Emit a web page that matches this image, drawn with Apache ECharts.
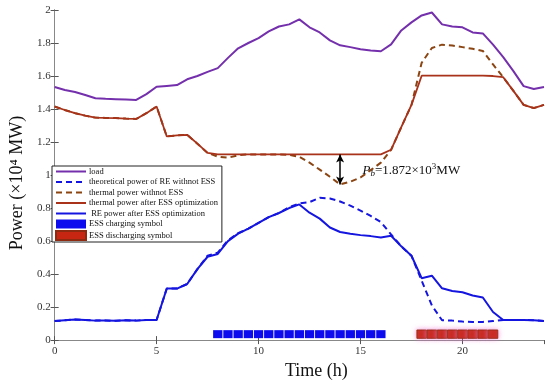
<!DOCTYPE html>
<html><head><meta charset="utf-8">
<script src="https://cdn.jsdelivr.net/npm/echarts@6/dist/echarts.min.js"></script>
<style>html,body{margin:0;padding:0;background:#fff}#c{width:550px;height:385px}</style>
</head><body><div id="c"></div>
<script>
// ---- data (x10^4 MW), half-hour steps ----
const hours = [0,0.5,1,1.5,2,2.5,3,3.5,4,4.5,5,5.5,6,6.5,7,7.5,8,8.5,9,9.5,10,10.5,11,11.5,12,12.5,13,13.5,14,14.5,15,15.5,16,16.5,17,17.5,18,18.5,19,19.5,20,20.5,21,21.5,22,22.5,23,23.5,24];
const load = [1.533,1.515,1.503,1.485,1.465,1.462,1.460,1.458,1.455,1.490,1.535,1.540,1.545,1.580,1.600,1.625,1.648,1.710,1.768,1.800,1.830,1.870,1.900,1.913,1.943,1.895,1.864,1.816,1.786,1.775,1.762,1.755,1.750,1.792,1.876,1.925,1.967,1.985,1.913,1.900,1.895,1.864,1.858,1.790,1.714,1.630,1.539,1.521,1.533];
const reTheory = [0.115,0.120,0.125,0.122,0.118,0.118,0.117,0.120,0.118,0.122,0.122,0.313,0.312,0.340,0.430,0.512,0.530,0.605,0.648,0.675,0.710,0.745,0.770,0.805,0.828,0.836,0.862,0.858,0.840,0.815,0.785,0.752,0.715,0.640,0.568,0.511,0.360,0.210,0.120,0.118,0.112,0.110,0.110,0.115,0.122,0.122,0.122,0.120,0.115];
const thermalNoESS = [1.415,1.394,1.375,1.360,1.348,1.346,1.345,1.342,1.340,1.375,1.415,1.234,1.240,1.244,1.190,1.134,1.112,1.105,1.120,1.125,1.125,1.125,1.125,1.123,1.110,1.075,1.033,0.990,0.943,0.960,0.985,1.030,1.075,1.153,1.290,1.425,1.680,1.770,1.790,1.785,1.775,1.765,1.752,1.670,1.593,1.510,1.425,1.406,1.425];
const thermalESS = [1.415,1.394,1.375,1.360,1.348,1.346,1.345,1.342,1.340,1.375,1.415,1.234,1.240,1.244,1.190,1.134,1.125,1.125,1.125,1.125,1.125,1.125,1.125,1.125,1.125,1.125,1.125,1.125,1.125,1.125,1.125,1.125,1.125,1.153,1.290,1.425,1.602,1.602,1.602,1.602,1.602,1.602,1.602,1.600,1.593,1.510,1.425,1.406,1.425];
const reESS = [0.115,0.120,0.125,0.122,0.118,0.118,0.117,0.120,0.118,0.122,0.122,0.313,0.312,0.340,0.430,0.505,0.522,0.600,0.645,0.675,0.710,0.745,0.770,0.800,0.822,0.772,0.736,0.682,0.655,0.645,0.636,0.630,0.622,0.632,0.568,0.511,0.375,0.390,0.314,0.298,0.290,0.270,0.258,0.170,0.122,0.122,0.122,0.120,0.115];
const chargeHours = [8,8.5,9,9.5,10,10.5,11,11.5,12,12.5,13,13.5,14,14.5,15,15.5,16];
const dischargeHours = [18,18.5,19,19.5,20,20.5,21,21.5];
const symbolLevel = 0.036;
const xTicks = [0,5,10,15,20];
const yTicks = [0,0.2,0.4,0.6,0.8,1,1.2,1.4,1.6,1.8,2];
const gapHour = 14;
const gapText = '=1.872×10';

const F = '"Liberation Serif","Times New Roman",serif';
const pairs = ys => hours.map((h,i)=>[h, ys[i]]);
const gi = hours.indexOf(gapHour);

const chart = echarts.init(document.getElementById('c'));
const baseX = {type:'value', min:xTicks[0], max:24, interval:xTicks[1]-xTicks[0], splitLine:{show:false}};
const baseY = {type:'value', min:yTicks[0], max:yTicks[yTicks.length-1], interval:yTicks[1]-yTicks[0], splitLine:{show:false}};
const lineLegend = n => ({name:n, itemStyle:{opacity:0}});
chart.setOption({
  animation:false,
  grid:{left:49, top:10, right:6, bottom:43.5},
  xAxis:[
    Object.assign({}, baseX, {position:'bottom',
      axisLine:{lineStyle:{color:'#a8553a', width:1}},
      axisTick:{inside:true, length:4, lineStyle:{color:'#555'}},
      axisLabel:{fontFamily:F, fontSize:11, color:'#333', margin:6, showMaxLabel:false},
      name:'Time (h)', nameLocation:'middle', nameGap:21,
      nameTextStyle:{fontFamily:F, fontSize:18, color:'#111', padding:[0,0,0,34]}}),
    Object.assign({}, baseX, {position:'top',
      axisLine:{lineStyle:{color:'#888'}},
      axisTick:{inside:true, length:4, lineStyle:{color:'#555'}},
      axisLabel:{show:false}})
  ],
  yAxis:[
    Object.assign({}, baseY, {position:'left',
      axisLine:{show:true, lineStyle:{color:'#555'}},
      axisTick:{show:true, inside:true, length:4, lineStyle:{color:'#555'}},
      axisLabel:{fontFamily:F, fontSize:11, color:'#333', margin:4},
      name:'Power (×10⁴ MW)', nameLocation:'middle', nameGap:27,
      nameTextStyle:{fontFamily:F, fontSize:18, color:'#111', padding:[0,16,0,0]}}),
    Object.assign({}, baseY, {position:'right',
      axisLine:{show:true, lineStyle:{color:'#888'}},
      axisTick:{show:true, inside:true, length:4, lineStyle:{color:'#555'}},
      axisLabel:{show:false}})
  ],
  legend:{
    orient:'vertical', left:52, top:166,
    backgroundColor:'#fff', borderColor:'#222', borderWidth:1, borderRadius:0,
    padding:[1,4,1,3], itemWidth:30, itemHeight:9, itemGap:1.5,
    textStyle:{fontFamily:F, fontSize:8.5, color:'#111', padding:[0,0,0,-2]},
    data:[lineLegend('load'), lineLegend('theoretical power of RE withnot ESS'), lineLegend('thermal power withnot ESS'),
      lineLegend('thermal power after ESS optimization'), lineLegend(' RE power after ESS optimization'),
      'ESS charging symbol', 'ESS discharging symbol']
  },
  series:[
    {name:'load', type:'line', data:pairs(load), symbol:'none', lineStyle:{color:'#7430ac', width:2}, itemStyle:{color:'#7430ac'}},
    {name:'thermal power withnot ESS', type:'line', data:pairs(thermalNoESS), symbol:'none', lineStyle:{color:'#8b4513', width:2, type:[6,4]}, itemStyle:{color:'#8b4513'}},
    {name:'thermal power after ESS optimization', type:'line', data:pairs(thermalESS), symbol:'none', lineStyle:{color:'#a8321a', width:1.8}, itemStyle:{color:'#a8321a'},
      markLine:{silent:true, symbol:['arrow','arrow'], symbolSize:[6,8], label:{show:false},
        lineStyle:{color:'#000', type:'solid', width:1.5},
        data:[[{coord:[gapHour, thermalESS[gi]]},{coord:[gapHour, thermalNoESS[gi]]}]]},
      markPoint:{silent:true, symbol:'circle', symbolSize:0,
        data:[{coord:[gapHour+1.0, (thermalESS[gi]+thermalNoESS[gi])/2 - 0.007]}],
        label:{show:true, position:'right', distance:2, color:'#111',
          formatter:'{p|P}{b|b}{t|'+gapText+'}{s|3}{t|MW}',
          rich:{p:{fontFamily:F, fontSize:13, fontStyle:'italic', color:'#111', lineHeight:16},
                b:{fontFamily:F, fontSize:9, fontStyle:'italic', color:'#111', verticalAlign:'bottom', lineHeight:16},
                t:{fontFamily:F, fontSize:13, color:'#111', lineHeight:16},
                s:{fontFamily:F, fontSize:9, color:'#111', verticalAlign:'top', lineHeight:16}}}}},
    {name:'theoretical power of RE withnot ESS', type:'line', data:pairs(reTheory), symbol:'none', lineStyle:{color:'#1515e0', width:2, type:[6,4]}, itemStyle:{color:'#1515e0'}},
    {name:' RE power after ESS optimization', type:'line', data:pairs(reESS), symbol:'none', lineStyle:{color:'#1515e0', width:2}, itemStyle:{color:'#1515e0'}},
    {name:'ESS charging symbol', type:'scatter', symbol:'rect', symbolSize:[9.3,8], data:chargeHours.map(h=>[h,symbolLevel]), itemStyle:{color:'#0c0cee', opacity:1}},
    {name:'ESS discharging symbol', type:'scatter', symbol:'rect', symbolSize:[9.6,8.4], data:dischargeHours.map(h=>[h,symbolLevel]),
      itemStyle:{color:'#c62612', borderColor:'#8e2a10', borderWidth:0.8, opacity:1, shadowColor:'rgba(240,120,210,0.8)', shadowBlur:5}}
  ]
});
</script></body></html>
